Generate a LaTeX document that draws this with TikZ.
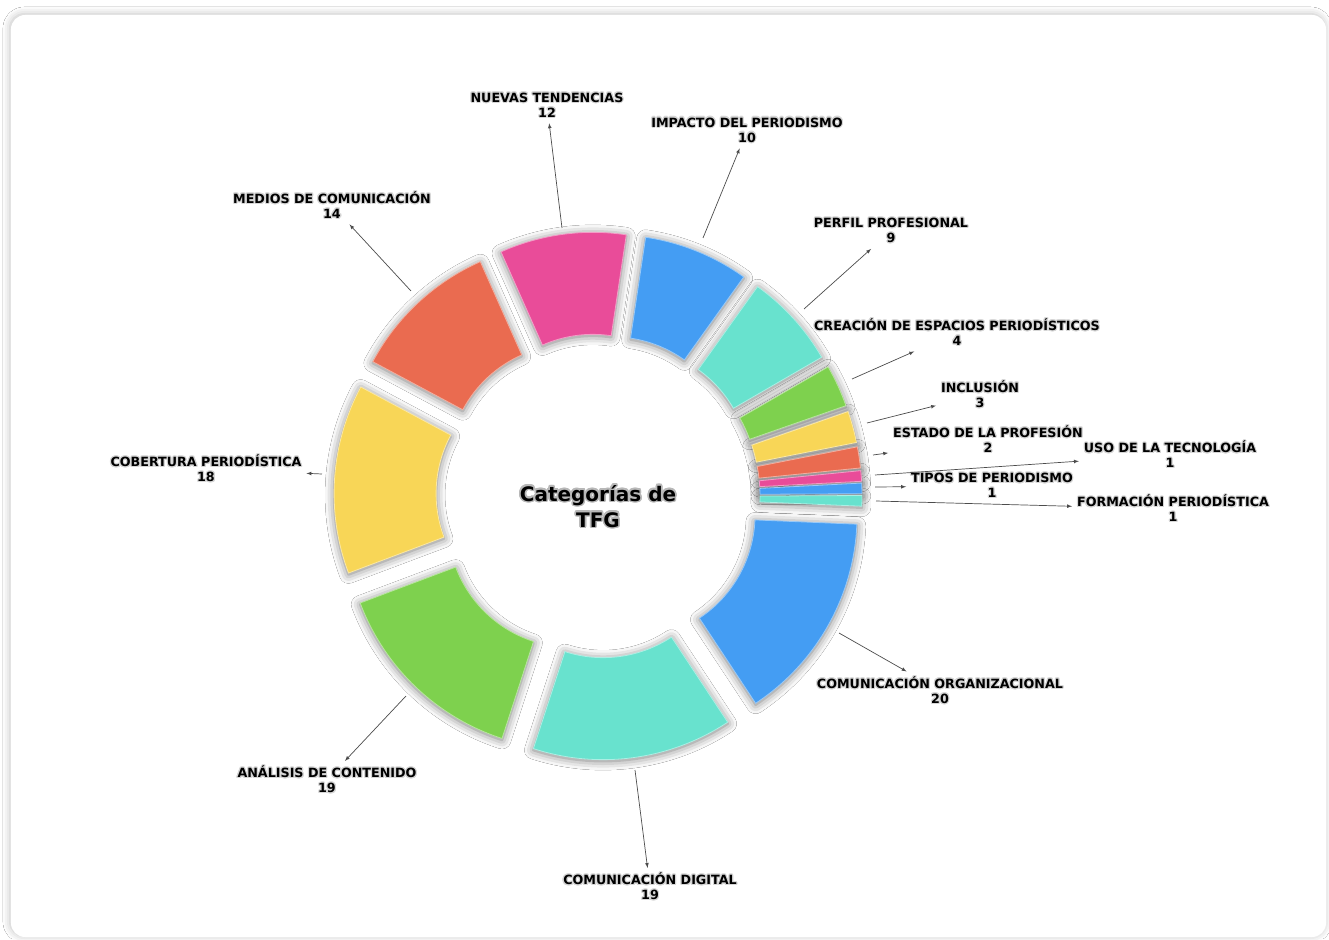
\documentclass[tikz,border=0pt]{standalone}
\usepackage{fontspec}
\setmainfont{DejaVu Sans}
\usepackage{contour}
\usetikzlibrary{shadows.blur}
\definecolor{cblue}{RGB}{68,157,243}
\definecolor{cteal}{RGB}{104,226,206}
\definecolor{cgreen}{RGB}{126,209,78}
\definecolor{cyellow}{RGB}{248,214,87}
\definecolor{corange}{RGB}{234,107,80}
\definecolor{cpink}{RGB}{233,76,153}
\colorlet{halo}{black!16}
\contourlength{1.1pt}
\newcommand{\twoline}[2]{\contour{halo}{#1}\\\contour{halo}{#2}}
\tikzset{
  slice/.style={fill=#1, draw=#1!55!white, line width=0.8pt},
  sliceshadow/.style={blur shadow={shadow xshift=0pt, shadow yshift=-1.5pt, shadow blur radius=9pt, shadow opacity=55}},
  lbl/.style={font=\fontsize{12.7}{15}\selectfont\bfseries, align=center, inner sep=1pt, outer sep=4pt},
  lead/.style={draw=black!70, line width=0.7pt, -latex}
}

\begin{document}
\begin{tikzpicture}[x=1pt,y=1pt]
\useasboundingbox (-598,-443) rectangle (731,496);
\fill[white] (-598,-443) rectangle (731,496);
% card
\path[fill=white, rounded corners=14pt, blur shadow={shadow xshift=-1pt, shadow yshift=1pt, shadow blur radius=7pt, shadow opacity=25}] (-587,-441) rectangle (728,481);
% shadows of the slices
\path[sliceshadow, shift={(-29.48:38)}] (-2.41:226) arc (-2.41:-56.55:226) -- (-56.55:124) arc (-56.55:-2.41:124) -- cycle;
\path[sliceshadow, shift={(-82.26:38)}] (-56.55:226) arc (-56.55:-107.97:226) -- (-107.97:124) arc (-107.97:-56.55:124) -- cycle;
\path[sliceshadow, shift={(-133.69:38)}] (-107.97:226) arc (-107.97:-159.40:226) -- (-159.40:124) arc (-159.40:-107.97:124) -- cycle;
\path[sliceshadow, shift={(-183.76:38)}] (-159.40:226) arc (-159.40:-208.12:226) -- (-208.12:124) arc (-208.12:-159.40:124) -- cycle;
\path[sliceshadow, shift={(-227.07:38)}] (-208.12:226) arc (-208.12:-246.02:226) -- (-246.02:124) arc (-246.02:-208.12:124) -- cycle;
\path[sliceshadow, shift={(-262.26:38)}] (-246.02:226) arc (-246.02:-278.50:226) -- (-278.50:124) arc (-278.50:-246.02:124) -- cycle;
\path[sliceshadow, shift={(-292.03:38)}] (-278.50:226) arc (-278.50:-305.57:226) -- (-305.57:124) arc (-305.57:-278.50:124) -- cycle;
\path[sliceshadow, shift={(-317.75:38)}] (-305.57:226) arc (-305.57:-329.93:226) -- (-329.93:124) arc (-329.93:-305.57:124) -- cycle;
\path[sliceshadow, shift={(-335.34:38)}] (-329.93:226) arc (-329.93:-340.76:226) -- (-340.76:124) arc (-340.76:-329.93:124) -- cycle;
\path[sliceshadow, shift={(-344.82:38)}] (-340.76:226) arc (-340.76:-348.88:226) -- (-348.88:124) arc (-348.88:-340.76:124) -- cycle;
\path[sliceshadow, shift={(-351.58:38)}] (-348.88:226) arc (-348.88:-354.29:226) -- (-354.29:124) arc (-354.29:-348.88:124) -- cycle;
\path[sliceshadow, shift={(-355.64:38)}] (-354.29:226) arc (-354.29:-357.00:226) -- (-357.00:124) arc (-357.00:-354.29:124) -- cycle;
\path[sliceshadow, shift={(-358.35:38)}] (-357.00:226) arc (-357.00:-359.70:226) -- (-359.70:124) arc (-359.70:-357.00:124) -- cycle;
\path[sliceshadow, shift={(-361.06:38)}] (-359.70:226) arc (-359.70:-362.41:226) -- (-362.41:124) arc (-362.41:-359.70:124) -- cycle;
% slices
\draw[slice=cblue, shift={(-29.48:38)}] (-2.41:226) arc (-2.41:-56.55:226) -- (-56.55:124) arc (-56.55:-2.41:124) -- cycle;
\draw[slice=cteal, shift={(-82.26:38)}] (-56.55:226) arc (-56.55:-107.97:226) -- (-107.97:124) arc (-107.97:-56.55:124) -- cycle;
\draw[slice=cgreen, shift={(-133.69:38)}] (-107.97:226) arc (-107.97:-159.40:226) -- (-159.40:124) arc (-159.40:-107.97:124) -- cycle;
\draw[slice=cyellow, shift={(-183.76:38)}] (-159.40:226) arc (-159.40:-208.12:226) -- (-208.12:124) arc (-208.12:-159.40:124) -- cycle;
\draw[slice=corange, shift={(-227.07:38)}] (-208.12:226) arc (-208.12:-246.02:226) -- (-246.02:124) arc (-246.02:-208.12:124) -- cycle;
\draw[slice=cpink, shift={(-262.26:38)}] (-246.02:226) arc (-246.02:-278.50:226) -- (-278.50:124) arc (-278.50:-246.02:124) -- cycle;
\draw[slice=cblue, shift={(-292.03:38)}] (-278.50:226) arc (-278.50:-305.57:226) -- (-305.57:124) arc (-305.57:-278.50:124) -- cycle;
\draw[slice=cteal, shift={(-317.75:38)}] (-305.57:226) arc (-305.57:-329.93:226) -- (-329.93:124) arc (-329.93:-305.57:124) -- cycle;
\draw[slice=cgreen, shift={(-335.34:38)}] (-329.93:226) arc (-329.93:-340.76:226) -- (-340.76:124) arc (-340.76:-329.93:124) -- cycle;
\draw[slice=cyellow, shift={(-344.82:38)}] (-340.76:226) arc (-340.76:-348.88:226) -- (-348.88:124) arc (-348.88:-340.76:124) -- cycle;
\draw[slice=corange, shift={(-351.58:38)}] (-348.88:226) arc (-348.88:-354.29:226) -- (-354.29:124) arc (-354.29:-348.88:124) -- cycle;
\draw[slice=cpink, shift={(-355.64:38)}] (-354.29:226) arc (-354.29:-357.00:226) -- (-357.00:124) arc (-357.00:-354.29:124) -- cycle;
\draw[slice=cblue, shift={(-358.35:38)}] (-357.00:226) arc (-357.00:-359.70:226) -- (-359.70:124) arc (-359.70:-357.00:124) -- cycle;
\draw[slice=cteal, shift={(-361.06:38)}] (-359.70:226) arc (-359.70:-362.41:226) -- (-362.41:124) arc (-362.41:-359.70:124) -- cycle;
% title
\node[font=\fontsize{20}{26}\selectfont\bfseries, align=center] (title) at (0,-11) {\contourlength{1.6pt}\contour{black!28}{Categorías de}\\\contourlength{1.6pt}\contour{black!28}{TFG}};
% labels
\node[lbl] (nue) at (-51,390.5) {\twoline{NUEVAS TENDENCIAS}{12}};
\node[lbl] (imp) at (149,365.5) {\twoline{IMPACTO DEL PERIODISMO}{10}};
\node[lbl] (per) at (293,265) {\twoline{PERFIL PROFESIONAL}{9}};
\node[lbl] (cre) at (359,163.5) {\twoline{CREACIÓN DE ESPACIOS PERIODÍSTICOS}{4}};
\node[lbl] (inc) at (382,101.5) {\twoline{INCLUSIÓN}{3}};
\node[lbl] (est) at (390,56.5) {\twoline{ESTADO DE LA PROFESIÓN}{2}};
\node[lbl] (uso) at (572,41) {\twoline{USO DE LA TECNOLOGÍA}{1}};
\node[lbl] (tip) at (394,10) {\twoline{TIPOS DE PERIODISMO}{1}};
\node[lbl] (for) at (575,-13) {\twoline{FORMACIÓN PERIODÍSTICA}{1}};
\node[lbl] (org) at (342,-194.5) {\twoline{COMUNICACIÓN ORGANIZACIONAL}{20}};
\node[lbl] (dig) at (52,-391) {\twoline{COMUNICACIÓN DIGITAL}{19}};
\node[lbl] (ana) at (-271,-284) {\twoline{ANÁLISIS DE CONTENIDO}{19}};
\node[lbl] (cob) at (-392,27) {\twoline{COBERTURA PERIODÍSTICA}{18}};
\node[lbl] (med) at (-266,290.5) {\twoline{MEDIOS DE COMUNICACIÓN}{14}};
% leader lines
\coordinate (nue-a) at (-36,268);
\coordinate (imp-a) at (105,258);
\coordinate (per-a) at (206,187);
\coordinate (cre-a) at (254,117);
\coordinate (inc-a) at (269,73);
\coordinate (est-a) at (275,41);
\coordinate (uso-a) at (277,21);
\coordinate (tip-a) at (277,9);
\coordinate (for-a) at (278,-5);
\coordinate (org-a) at (241,-137);
\coordinate (dig-a) at (37,-274);
\coordinate (ana-a) at (-192,-200);
\coordinate (cob-a) at (-276,22);
\coordinate (med-a) at (-187,205);
\draw[lead] (nue-a) -- (nue);
\draw[lead] (imp-a) -- (imp);
\draw[lead] (per-a) -- (per);
\draw[lead] (cre-a) -- (cre);
\draw[lead] (inc-a) -- (inc);
\draw[lead] (est-a) -- (est);
\draw[lead] (uso-a) -- (uso);
\draw[lead] (tip-a) -- (tip);
\draw[lead] (for-a) -- (for);
\draw[lead] (org-a) -- (org);
\draw[lead] (dig-a) -- (dig);
\draw[lead] (ana-a) -- (ana);
\draw[lead] (cob-a) -- (cob);
\draw[lead] (med-a) -- (med);
\end{tikzpicture}
\end{document}
